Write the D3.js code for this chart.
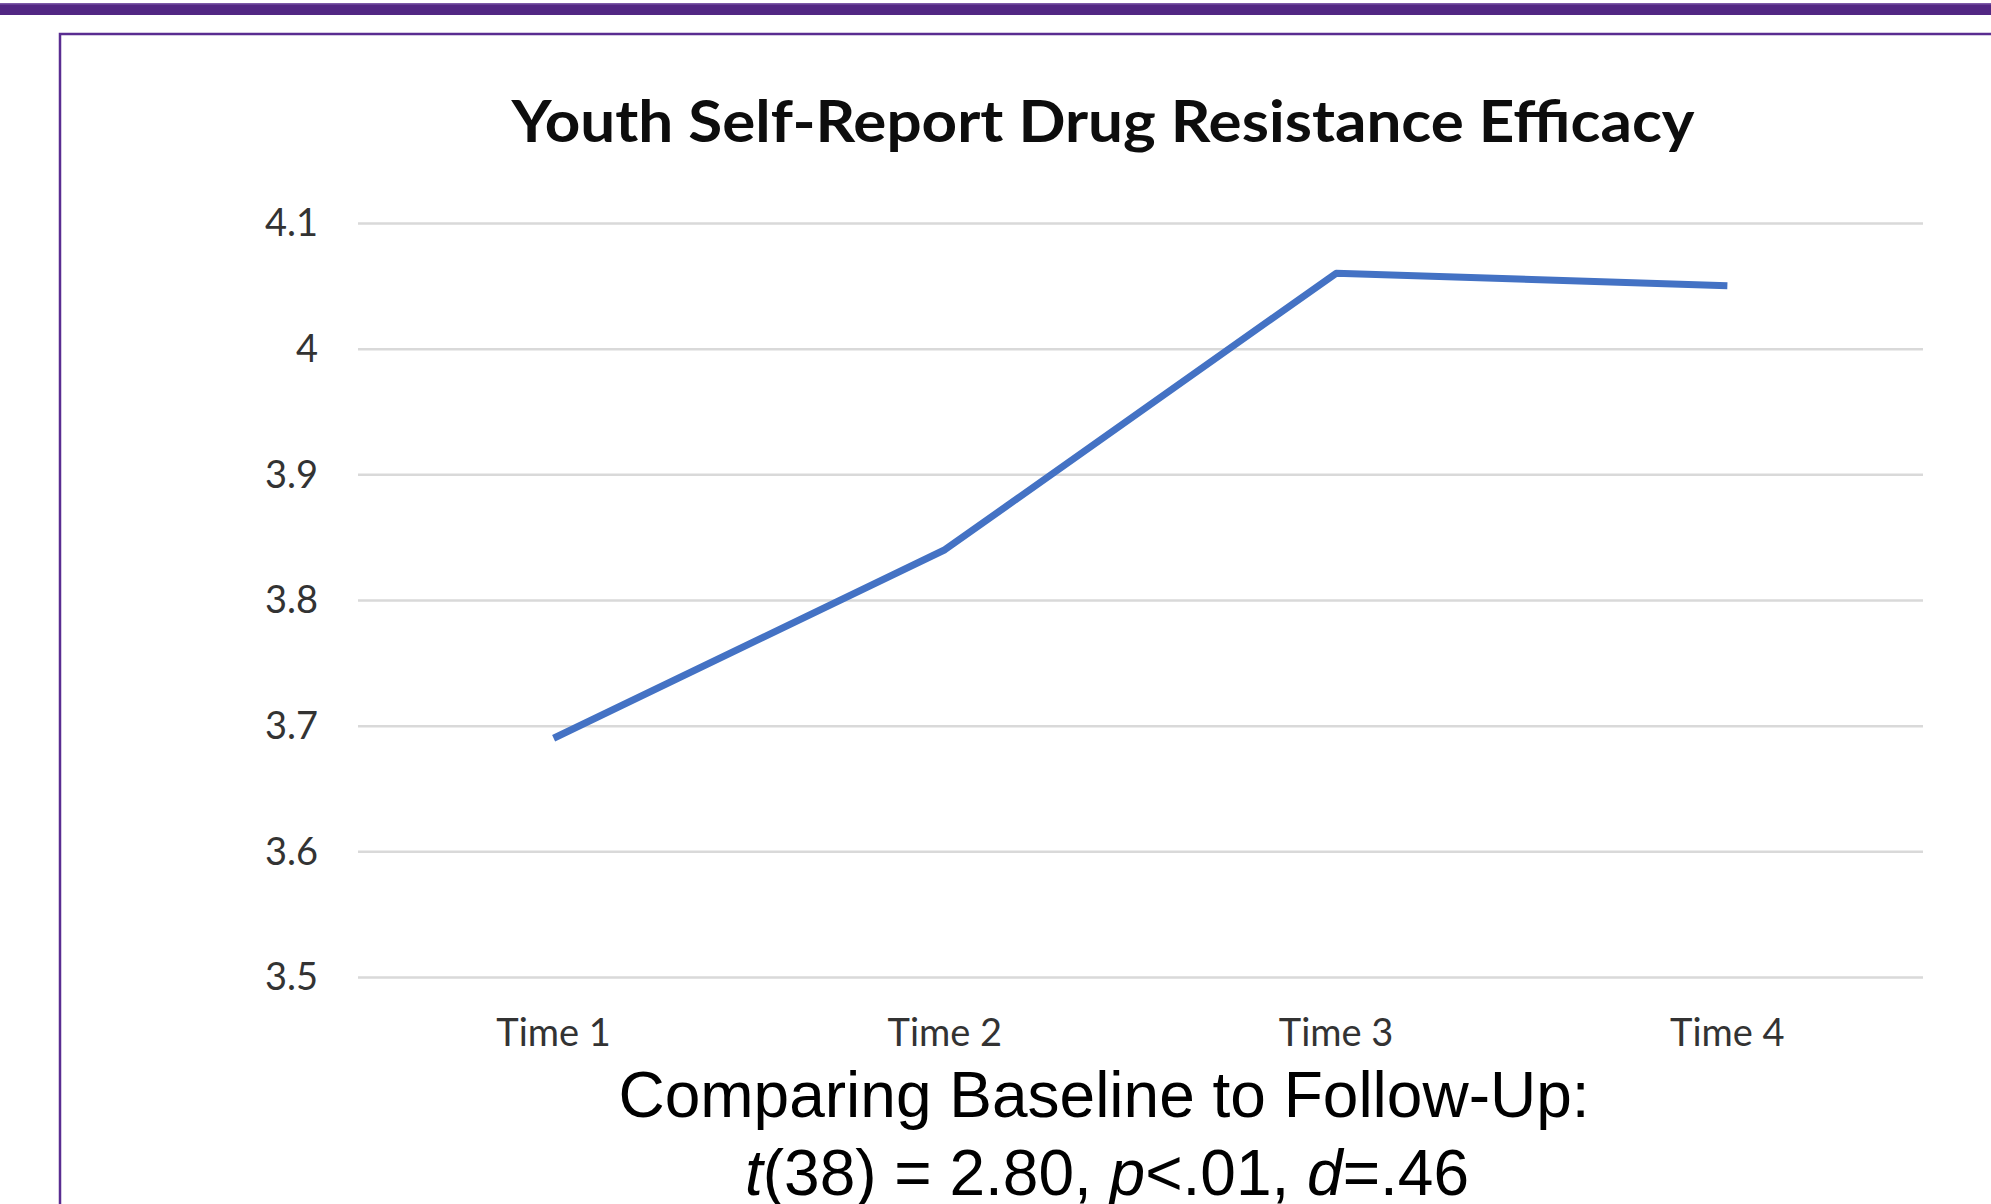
<!DOCTYPE html>
<html>
<head>
<meta charset="utf-8">
<script src="https://cdn.jsdelivr.net/npm/d3@7"></script>
<style>
  html, body { margin: 0; padding: 0; background: #ffffff; }
  svg { display: block; }
</style>
</head>
<body>
<script>
// ---- data ----
const categories = ["Time 1", "Time 2", "Time 3", "Time 4"];
const efficacy = [3.69, 3.84, 4.06, 4.05];
const yTicks = [3.5, 3.6, 3.7, 3.8, 3.9, 4.0, 4.1];
const yTickLabels = ["3.5", "3.6", "3.7", "3.8", "3.9", "4", "4.1"];
const chartTitle = "Youth Self-Report Drug Resistance Efficacy";
const noteLine1 = "Comparing Baseline to Follow-Up:";
const noteLine2 = [["t", true], ["(38) = 2.80, ", false], ["p", true], ["<.01, ", false], ["d", true], ["=.46", false]];

const W = 1991, H = 1204;
const svg = d3.select("body").append("svg").attr("width", W).attr("height", H);

// top purple band
svg.append("rect").attr("x", 0).attr("y", 3).attr("width", W).attr("height", 12).attr("fill", "#522783");
svg.append("rect").attr("x", 0).attr("y", 3).attr("width", W).attr("height", 1.5).attr("fill", "#7d5aa8");

// framed box
svg.append("rect").attr("x", 60).attr("y", 34).attr("width", W).attr("height", H)
  .attr("fill", "#ffffff").attr("stroke", "#5a2d91").attr("stroke-width", 2.5);

const plot = { left: 358, right: 1923, top: 223, bottom: 977 };

const x = d3.scaleBand().domain(categories).range([plot.left, plot.right]).paddingInner(0).paddingOuter(0);
const y = d3.scaleLinear().domain([3.5, 4.1]).range([plot.bottom, plot.top]);

// gridlines + y labels
const yAxis = d3.axisLeft(y).tickValues(yTicks)
  .tickSize(-(plot.right - plot.left)).tickPadding(40)
  .tickFormat((d, i) => yTickLabels[i]);
const gy = svg.append("g").attr("transform", `translate(${plot.left},0)`).call(yAxis);
gy.select(".domain").remove();
gy.selectAll(".tick line").attr("stroke", "#d9d9d9").attr("stroke-width", 2.5);
gy.selectAll(".tick text").attr("font-family", "Lato, 'Open Sans', sans-serif")
  .attr("font-size", 38).attr("fill", "#333333").attr("dy", "0.34em");

// x labels
const xAxis = d3.axisBottom(x).tickSize(0).tickPadding(0);
const gx = svg.append("g").attr("transform", `translate(0,${plot.bottom})`).call(xAxis);
gx.select(".domain").remove();
gx.selectAll(".tick text").attr("font-family", "Lato, 'Open Sans', sans-serif")
  .attr("font-size", 38).attr("fill", "#333333").attr("dy", null).attr("y", 69);

// line
const line = d3.line().x((d, i) => x(categories[i]) + x.bandwidth() / 2).y(d => y(d));
svg.append("path").datum(efficacy).attr("d", line)
  .attr("fill", "none").attr("stroke", "#4472C4").attr("stroke-width", 7)
  .attr("stroke-linejoin", "round").attr("stroke-linecap", "butt");

// title
svg.append("text").attr("x", 1103).attr("y", 142).attr("text-anchor", "middle")
  .attr("font-family", "Lato, 'Open Sans', sans-serif").attr("font-weight", 700)
  .attr("font-size", 58).attr("fill", "#0d0d0d")
  .attr("textLength", 1183).attr("lengthAdjust", "spacingAndGlyphs")
  .text(chartTitle);

// note lines
svg.append("text").attr("x", 1104).attr("y", 1117).attr("text-anchor", "middle")
  .attr("font-family", "'Liberation Sans', Arial, sans-serif").attr("font-size", 64)
  .attr("fill", "#000000").text(noteLine1);
const t2 = svg.append("text").attr("x", 1107).attr("y", 1195).attr("text-anchor", "middle")
  .attr("font-family", "'Liberation Sans', Arial, sans-serif").attr("font-size", 64)
  .attr("fill", "#000000");
noteLine2.forEach(([s, it]) => {
  t2.append("tspan").attr("font-style", it ? "italic" : "normal").text(s);
});
</script>
</body>
</html>
